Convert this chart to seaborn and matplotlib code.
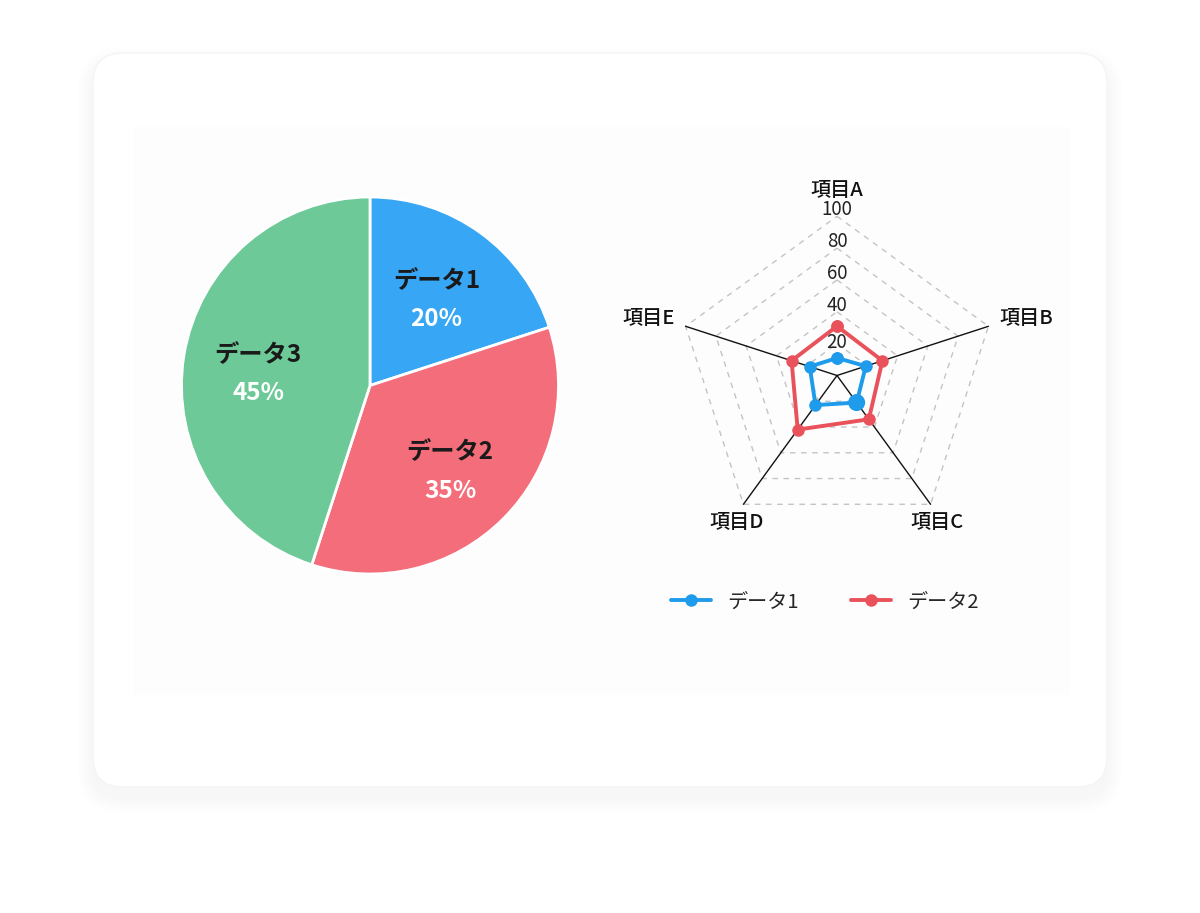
import numpy as np
import pandas as pd
import matplotlib
matplotlib.use("Agg")
import matplotlib.pyplot as plt
import seaborn as sns
from matplotlib.patches import FancyBboxPatch, Rectangle
from matplotlib.lines import Line2D

# ---------------- data ----------------
pie_labels = ["データ1", "データ2", "データ3"]
pie_values = [20, 35, 45]
pie_colors = ["#36A6F5", "#F46D7A", "#6DCA98"]

radar_axes = ["項目A", "項目B", "項目C", "項目D", "項目E"]
radar_d1 = [11, 19, 21, 23, 18]
radar_d2 = [31, 30, 34, 42, 30]
radar_ticks = [20, 40, 60, 80, 100]
series_names = ["データ1", "データ2"]
series_colors = ["#1E9BEA", "#E9525A"]

# ---------------- style ----------------
sns.set_theme(style="white")
plt.rcParams['font.family'] = ['Noto Sans CJK JP', 'DejaVu Sans']

W, H = 1200, 913
fig = plt.figure(figsize=(12, 9.13), dpi=100)
fig.patch.set_facecolor("white")


def px(x0, y0, x1, y1):
    return [x0 / W, 1 - y1 / H, (x1 - x0) / W, (y1 - y0) / H]


# ---------------- card background ----------------
bg = fig.add_axes([0, 0, 1, 1], zorder=-5)
bg.set_xlim(0, W)
bg.set_ylim(H, 0)
bg.axis("off")
for i in range(8):
    e = 16 - 2 * i
    bg.add_patch(FancyBboxPatch((93 - e, 53 - e + 10), 1014 + 2 * e, 734 + 2 * e,
                                boxstyle="round,pad=0,rounding_size=%d" % (30 + e),
                                facecolor="black", edgecolor="none", alpha=0.0045))
bg.add_patch(FancyBboxPatch((93, 53), 1014, 734, boxstyle="round,pad=0,rounding_size=30",
                            facecolor="white", edgecolor="#F4F4F4", linewidth=1))
bg.add_patch(Rectangle((133, 127), 937, 568, facecolor="#FDFDFD", edgecolor="none"))

# ---------------- pie ----------------
axp = fig.add_axes(px(179.5, 195, 560.5, 576))
wedges, _ = axp.pie(pie_values, colors=pie_colors, startangle=90, counterclock=False,
                    wedgeprops=dict(edgecolor="white", linewidth=2))
axp.set_xlim(-1.0106, 1.0106)
axp.set_ylim(-1.0106, 1.0106)
axp.set_aspect("equal")
for w, lab, val in zip(wedges, pie_labels, pie_values):
    mid = np.deg2rad((w.theta1 + w.theta2) / 2)
    r = 0.6
    cx, cy = r * np.cos(mid), r * np.sin(mid) - 0.03
    axp.text(cx, cy + 0.1, lab, ha="center", va="center", fontsize=17.5,
             fontweight="bold", color="#1A1A1A")
    axp.text(cx, cy - 0.105, f"{val}%", ha="center", va="center", fontsize=17.5,
             fontweight="bold", color="white")

# ---------------- radar ----------------
axr = fig.add_axes(px(638, 176.5, 1036, 574.5))
axr.set_xlim(-125, 125)
axr.set_ylim(-125, 125)
axr.set_aspect("equal")
axr.axis("off")

n = len(radar_axes)
ang = np.deg2rad(90 - 72 * np.arange(n))
cosA, sinA = np.cos(ang), np.sin(ang)

# dashed pentagon grid
for v in radar_ticks:
    xs = np.append(v * cosA, v * cosA[0])
    ys = np.append(v * sinA, v * sinA[0])
    axr.plot(xs, ys, color="#C4C4C4", lw=1, ls=(0, (4, 4)), zorder=1)

# spokes
for i in range(1, n):
    axr.plot([0, 100 * cosA[i]], [0, 100 * sinA[i]], color="#111111", lw=1, zorder=2)

# data series
rows = []
for name, vals in zip(series_names, [radar_d1, radar_d2]):
    for k in list(range(n)) + [0]:
        rows.append(dict(series=name, order=len(rows),
                         x=vals[k] * cosA[k], y=vals[k] * sinA[k]))
df = pd.DataFrame(rows)
sns.lineplot(data=df, x="x", y="y", hue="series", hue_order=series_names,
             palette=series_colors, sort=False, estimator=None, marker="o",
             markersize=9, markeredgewidth=0, linewidth=2.8, legend=False,
             ax=axr, zorder=4)
# highlighted point (hover state) of データ1 at 項目C
axr.scatter([radar_d1[2] * cosA[2]], [radar_d1[2] * sinA[2]], s=150,
            color=series_colors[0], edgecolor="none", zorder=5)
axr.set_xlim(-125, 125)
axr.set_ylim(-125, 125)

# tick labels along A axis
for v in radar_ticks:
    axr.text(0, v + (4 if v > 20 else 0.5), str(v), ha="center", va="center",
             fontsize=13.5, color="#222222", zorder=6)

# axis labels
for i, lab in enumerate(radar_axes):
    c, s = cosA[i], sinA[i]
    r = 107
    x, y = r * c, r * s
    if abs(c) < 0.1:
        ha, va = "center", "bottom"
        y = 110
    elif s > 0:
        ha = "left" if c > 0 else "right"
        va = "center"
        y += 3
    else:
        ha, va = "center", "top"
    axr.text(x, y, lab, ha=ha, va=va, fontsize=14.5, fontweight="medium",
             color="#111111")

# legend
handles = [Line2D([0], [0], color=c, lw=2.8, marker="o", markersize=9,
                  markeredgewidth=0) for c in series_colors]
fig.legend(handles, series_names, loc="center", bbox_to_anchor=(825 / W, 1 - 602 / H),
           ncol=2, frameon=False, fontsize=14.5, handlelength=2.0,
           columnspacing=2.6, handletextpad=0.8)

fig.savefig("out.png", dpi=100, facecolor="white")
